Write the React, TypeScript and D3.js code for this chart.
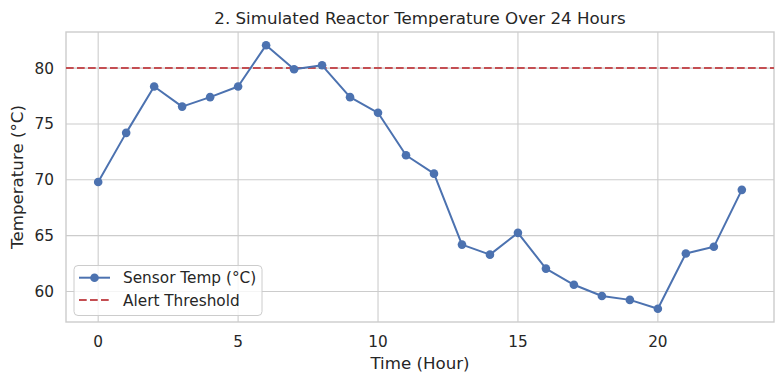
import React from "react";
import * as d3 from "d3";

// readings
const hours = d3.range(0, 24);
const temps = [
  69.8, 74.2, 78.35, 76.55, 77.4, 78.35, 82.05, 79.9, 80.25, 77.4, 76.0, 72.2,
  70.55, 64.2, 63.3, 65.25, 62.05, 60.6, 59.6, 59.25, 58.45, 63.4, 64.0, 69.1,
];
const threshold = 80;
const xTicks = [0, 5, 10, 15, 20];
const yTicks = [60, 65, 70, 75, 80];

const W = 784;
const H = 384;
const m = { left: 66, right: 774, top: 32, bottom: 322 };
const font = "'DejaVu Sans', sans-serif";
const ink = "#262626";
const blue = "#4c72b0";
const red = "#c44e52";

export default function App() {
  const xPad = (23 - 0) * 0.05;
  const x = d3.scaleLinear().domain([-xPad, 23 + xPad]).range([m.left, m.right]);
  const lo = d3.min(temps)!;
  const hi = d3.max(temps)!;
  const yPad = (hi - lo) * 0.05;
  const y = d3.scaleLinear().domain([lo - yPad, hi + yPad]).range([m.bottom, m.top]);

  const line = d3
    .line<number>()
    .x((d, i) => x(hours[i]))
    .y((d) => y(d));

  return (
    <svg
      width={W}
      height={H}
      style={{ position: "fixed", left: 0, top: 0, background: "#fff" }}
      fontFamily={font}
    >
      <rect x={0} y={0} width={W} height={H} fill="#fff" />
      {/* grid */}
      {xTicks.map((t) => (
        <line key={"gx" + t} x1={x(t)} x2={x(t)} y1={m.top} y2={m.bottom} stroke="#cccccc" strokeWidth={1.1} />
      ))}
      {yTicks.map((t) => (
        <line key={"gy" + t} x1={m.left} x2={m.right} y1={y(t)} y2={y(t)} stroke="#cccccc" strokeWidth={1.1} />
      ))}
      <rect
        x={m.left}
        y={m.top}
        width={m.right - m.left}
        height={m.bottom - m.top}
        fill="none"
        stroke="#cccccc"
        strokeWidth={1.4}
      />

      {/* threshold */}
      <line
        x1={m.left}
        x2={m.right}
        y1={y(threshold)}
        y2={y(threshold)}
        stroke={red}
        strokeWidth={2}
        strokeDasharray="7.7 3.3"
      />

      {/* sensor series */}
      <path d={line(temps) ?? ""} fill="none" stroke={blue} strokeWidth={2} strokeLinejoin="round" />
      {temps.map((d, i) => (
        <circle key={i} cx={x(hours[i])} cy={y(d)} r={4.3} fill={blue} />
      ))}

      {/* tick labels */}
      {xTicks.map((t) => (
        <text key={"tx" + t} x={x(t)} y={347} textAnchor="middle" fontSize={15.3} fill={ink}>
          {t}
        </text>
      ))}
      {yTicks.map((t) => (
        <text key={"ty" + t} x={54} y={y(t)} dy="0.36em" textAnchor="end" fontSize={15.3} fill={ink}>
          {t}
        </text>
      ))}

      {/* labels */}
      <text x={(m.left + m.right) / 2} y={24} textAnchor="middle" fontSize={16.67} fill={ink}>
        2. Simulated Reactor Temperature Over 24 Hours
      </text>
      <text x={(m.left + m.right) / 2} y={369} textAnchor="middle" fontSize={16.67} fill={ink}>
        Time (Hour)
      </text>
      <text
        transform={`translate(23,${(m.top + m.bottom) / 2}) rotate(-90)`}
        textAnchor="middle"
        fontSize={16.67}
        fill={ink}
      >
        Temperature (°C)
      </text>

      {/* legend */}
      <g>
        <rect x={74} y={265.5} width={188} height={50} rx={4} fill="#fff" fillOpacity={0.8} stroke="#cccccc" strokeWidth={1} />
        <line x1={79} x2={110} y1={277.7} y2={277.7} stroke={blue} strokeWidth={2} />
        <circle cx={94.5} cy={277.7} r={4.3} fill={blue} />
        <text x={123} y={277.7} dy="0.36em" fontSize={15.3} fill={ink}>
          Sensor Temp (°C)
        </text>
        <line x1={79} x2={110} y1={300} y2={300} stroke={red} strokeWidth={2} strokeDasharray="7.7 3.3" />
        <text x={123} y={300} dy="0.36em" fontSize={15.3} fill={ink}>
          Alert Threshold
        </text>
      </g>
    </svg>
  );
}
